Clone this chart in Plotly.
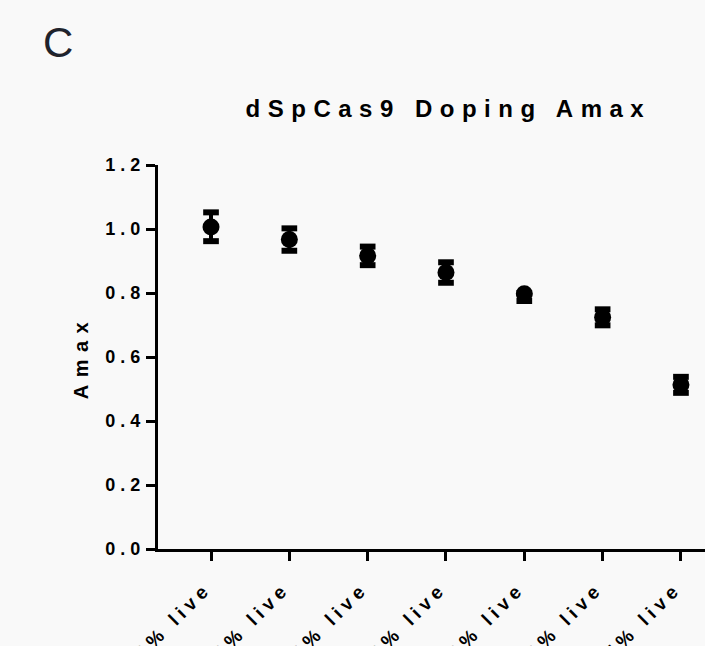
import plotly.graph_objects as go

# ---- data ----
categories = ["100% live", "90% live", "80% live", "70% live", "60% live", "50% live", "25% live"]
amax_mean = [1.006, 0.967, 0.916, 0.864, 0.798, 0.724, 0.513]
amax_err_plus = [0.046, 0.035, 0.029, 0.032, 0.002, 0.025, 0.025]
amax_err_minus = [0.044, 0.035, 0.029, 0.032, 0.023, 0.025, 0.025]
y_tick_vals = [0.0, 0.2, 0.4, 0.6, 0.8, 1.0, 1.2]
y_tick_text = ["0.0", "0.2", "0.4", "0.6", "0.8", "1.0", "1.2"]

FONT = "Liberation Sans, Arial, sans-serif"
W, H = 705, 646
ML, MR, MT, MB = 158, 0, 165, 97

fig = go.Figure()

# error stems
fig.add_trace(go.Scatter(
    x=categories, y=amax_mean, mode="markers",
    marker=dict(symbol="circle", size=17, color="black"),
    error_y=dict(type="data", symmetric=False, array=amax_err_plus,
                 arrayminus=amax_err_minus, visible=True,
                 color="black", thickness=4, width=0),
    showlegend=False, hoverinfo="skip",
))
# thick caps
cap_x = categories + categories
cap_y = ([m + e for m, e in zip(amax_mean, amax_err_plus)]
         + [m - e for m, e in zip(amax_mean, amax_err_minus)])
fig.add_trace(go.Scatter(
    x=cap_x, y=cap_y, mode="markers",
    marker=dict(symbol="line-ew", size=11.2, line=dict(color="black", width=6)),
    showlegend=False, hoverinfo="skip",
))

fig.update_layout(
    width=W, height=H,
    margin=dict(l=ML, r=MR, t=MT, b=MB, autoexpand=False),
    paper_bgcolor="#f9f9f9", plot_bgcolor="#f9f9f9",
    font=dict(family=FONT, color="black"),
    title=dict(text="dSpCas9 Doping Amax", xref="container", yref="container",
               x=0.636, y=0.832, xanchor="center", yanchor="middle",
               font=dict(family=FONT, size=24, weight="bold", color="black")),
    xaxis=dict(
        type="category", categoryorder="array", categoryarray=categories,
        range=[-0.677, 6.307], showgrid=False, zeroline=False,
        showline=True, linecolor="black", linewidth=3,
        ticks="outside", ticklen=9, tickwidth=3, tickcolor="black",
        tickangle=-45, ticklabelstandoff=9, ticklabelshift=-5,
        tickfont=dict(family=FONT, size=19, weight="bold", color="black"),
    ),
    yaxis=dict(
        range=[0, 1.2], tickvals=y_tick_vals, ticktext=y_tick_text,
        showgrid=False, zeroline=False,
        showline=True, linecolor="black", linewidth=3,
        ticks="outside", ticklen=9, tickwidth=3, tickcolor="black",
        tickfont=dict(family=FONT, size=18, weight="bold", color="black"),
        ticklabelstandoff=-3,
        title=dict(text="Amax", standoff=27,
                   font=dict(family=FONT, size=20, weight="bold", color="black")),
    ),
    annotations=[dict(
        text="C", xref="paper", yref="paper", x=-0.1828, y=1.318,
        xanchor="center", yanchor="middle", showarrow=False,
        font=dict(family=FONT, size=42, color="#1f232c"),
    )],
)

post = """
document.body.style.margin='0';
document.body.style.background='#f9f9f9';
var gd = document.getElementById('{plot_id}');
function spaceText(){
  gd.querySelectorAll('.gtitle').forEach(function(e){ e.style.letterSpacing='7.5px'; });
  gd.querySelectorAll('.ytitle').forEach(function(e){ e.style.letterSpacing='7.5px'; });
  gd.querySelectorAll('.ytick text, .xtick text').forEach(function(e){ e.style.letterSpacing='5px'; });
}
spaceText();
if (gd.on) { gd.on('plotly_afterplot', spaceText); }
"""

fig.write_html("out.html", post_script=post, config={"displayModeBar": False})
